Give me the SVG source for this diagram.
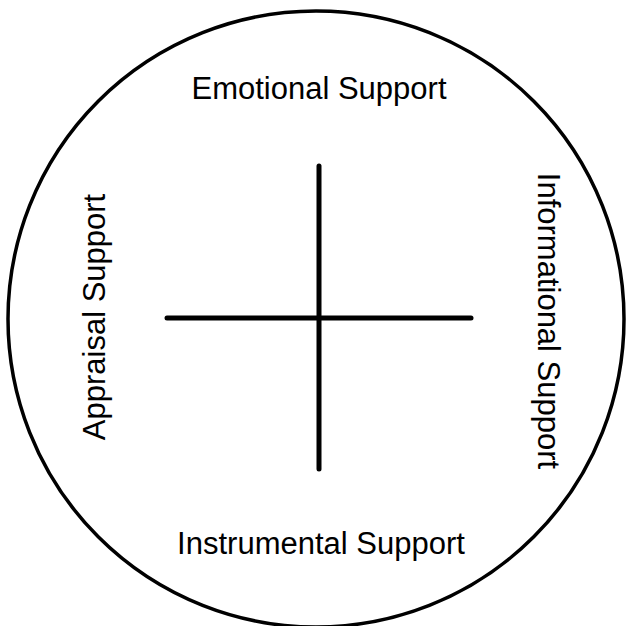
<svg xmlns="http://www.w3.org/2000/svg" width="626" height="626" viewBox="0 0 626 626">
<style>
.lbl{font-family:"Liberation Sans",Arial,sans-serif;font-size:31px;fill:#000;text-anchor:middle}
.ln{stroke:#000;stroke-width:5;stroke-linecap:round;fill:none}
</style>
<rect width="626" height="626" fill="#fff"/>
<g id="circle"><circle cx="316" cy="319" r="308" fill="none" stroke="#000" stroke-width="3.5"/></g>
<g id="connectors">
<line class="ln" x1="319" y1="166" x2="319" y2="469"/>
<line class="ln" x1="167" y1="318" x2="471" y2="318"/>
</g>
<g id="emotional"><text class="lbl" x="319" y="99">Emotional Support</text></g>
<g id="instrumental"><text class="lbl" x="321" y="554">Instrumental Support</text></g>
<g id="appraisal"><text class="lbl" transform="translate(105,317) rotate(-90)">Appraisal Support</text></g>
<g id="informational"><text class="lbl" transform="translate(538,321) rotate(90)">Informational Support</text></g>
</svg>
